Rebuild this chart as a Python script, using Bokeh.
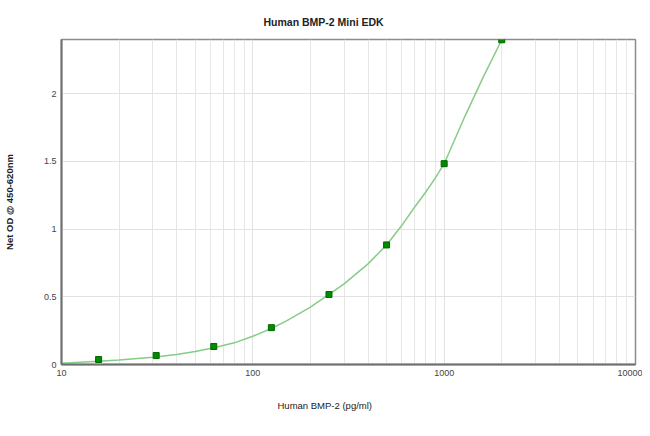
from bokeh.plotting import figure
from bokeh.models import FixedTicker, Range1d, Title
from bokeh.embed import file_html
from bokeh.resources import INLINE

title_text = "Human BMP-2 Mini EDK"
x_label = "Human BMP-2 (pg/ml)"
y_label = "Net OD @ 450-620nm"

# standards (pg/ml) and net OD
conc = [15.625, 31.25, 62.5, 125, 250, 500, 1000, 2000]
od = [0.037, 0.066, 0.133, 0.272, 0.517, 0.883, 1.483, 2.398]

# fitted curve
curve_x = [10, 15.625, 20, 30, 40, 50, 62.5, 80, 100, 125, 150, 200, 250, 300, 400,
           500, 600, 700, 800, 900, 1000, 1280, 1600, 2000]
curve_y = [0.010, 0.024, 0.034, 0.053, 0.074, 0.096, 0.124, 0.160, 0.209, 0.266, 0.322,
           0.423, 0.517, 0.595, 0.743, 0.883, 1.026, 1.161, 1.272, 1.378, 1.483, 1.829,
           2.122, 2.398]

x_ticks = [10, 100, 1000, 10000]
x_tick_labels = ["10", "100", "1000", "10000"]
y_ticks = [0, 0.5, 1, 1.5, 2]
y_tick_labels = ["0", "0.5", "1", "1.5", "2"]

x_minor = [m * d for d in (10, 100, 1000) for m in range(2, 10)]

FONT = "Liberation Sans"

p = figure(frame_width=574, frame_height=325, x_axis_type="log",
           x_range=Range1d(10, 10000), y_range=Range1d(0, 2.4),
           output_backend="svg", toolbar_location=None,
           min_border_left=61, min_border_right=7, min_border_top=39, min_border_bottom=60,
           background_fill_color="white", border_fill_color="white")

p.title = Title(text=title_text, align="left", offset=202, standoff=24,
                text_font=FONT, text_font_size="10.5px", text_font_style="bold", text_color="#222222")

p.add_layout(Title(text=x_label, align="left", offset=216, standoff=38,
                   text_font=FONT, text_font_size="9.5px", text_font_style="normal",
                   text_color="#222222"), "below")

p.outline_line_color = "#8c8c8c"
p.outline_line_width = 1.5

# x axis
p.xaxis.ticker = FixedTicker(ticks=x_ticks, minor_ticks=x_minor)
p.xaxis.major_label_overrides = {t: l for t, l in zip(x_ticks, x_tick_labels)}
# y axis
p.yaxis.ticker = FixedTicker(ticks=y_ticks, minor_ticks=[])
p.yaxis.major_label_overrides = {t: l for t, l in zip(y_ticks, y_tick_labels)}
p.yaxis.axis_label = y_label
p.yaxis.axis_label_standoff = 26
p.yaxis.axis_label_text_font = FONT
p.yaxis.axis_label_text_font_size = "9.5px"
p.yaxis.axis_label_text_font_style = "bold"
p.yaxis.axis_label_text_color = "#222222"

for ax in (p.xaxis, p.yaxis):
    ax.major_tick_in = 0
    ax.major_tick_out = 0
    ax.minor_tick_in = 0
    ax.minor_tick_out = 0
    ax.axis_line_color = "#6e6e6e"
    ax.axis_line_width = 2
    ax.major_label_text_font = FONT
    ax.major_label_text_font_size = "9px"
    ax.major_label_text_color = "#444444"
    ax.major_label_standoff = 5

p.xgrid.grid_line_color = "#e2e2e2"
p.xgrid.minor_grid_line_color = "#e6e6e6"
p.ygrid.grid_line_color = "#e2e2e2"
p.ygrid.minor_grid_line_color = None

p.line(curve_x, curve_y, line_color="#86cc86", line_width=1.5)
p.scatter(conc, od, marker="square", size=6, fill_color="#008c00", line_color="#006600")

open("out.html", "w").write(file_html(p, INLINE))
